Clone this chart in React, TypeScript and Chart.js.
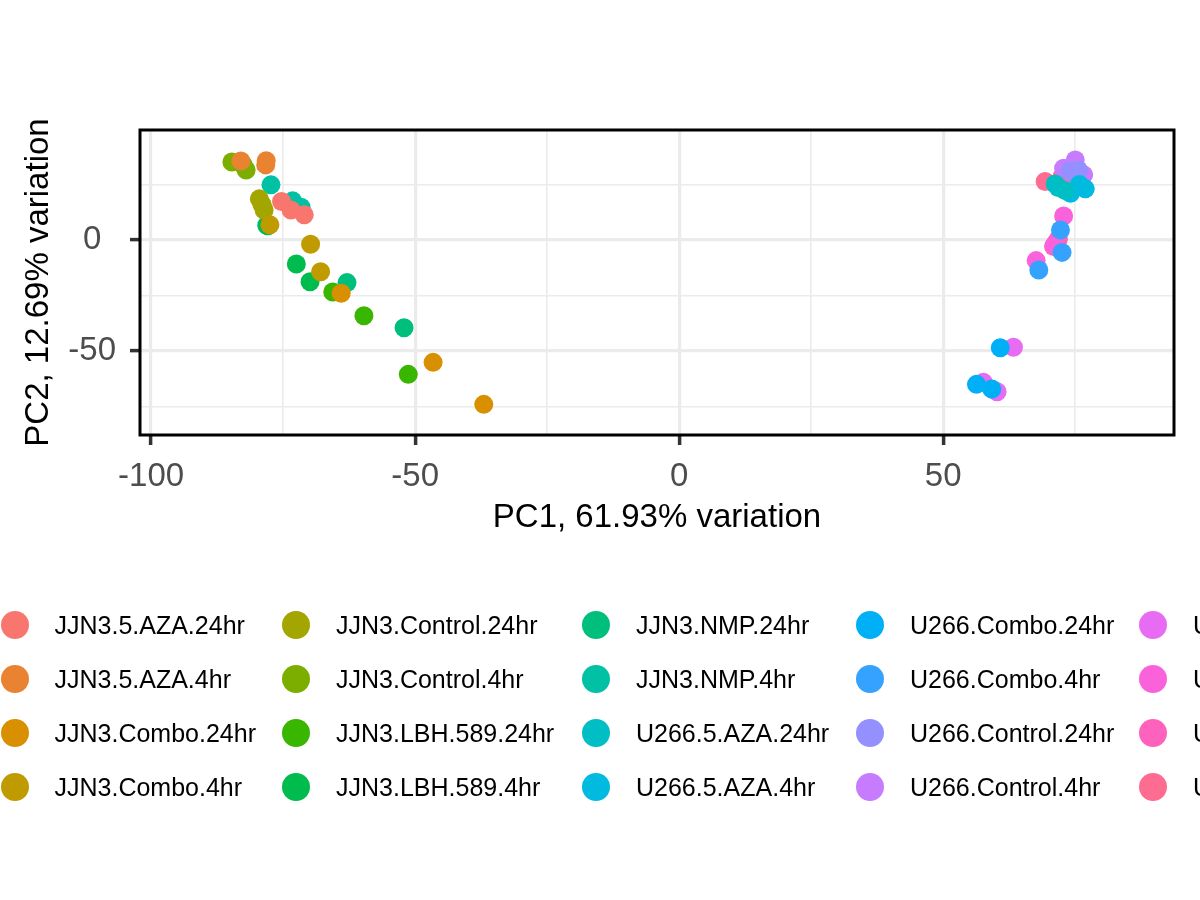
import { useEffect, useRef } from "react"
import { Chart, registerables } from "chart.js"
import type { Plugin } from "chart.js"

Chart.register(...registerables)

const groupLabels = [
  "JJN3.5.AZA.24hr", "JJN3.5.AZA.4hr", "JJN3.Combo.24hr", "JJN3.Combo.4hr",
  "JJN3.Control.24hr", "JJN3.Control.4hr", "JJN3.LBH.589.24hr", "JJN3.LBH.589.4hr",
  "JJN3.NMP.24hr", "JJN3.NMP.4hr", "U266.5.AZA.24hr", "U266.5.AZA.4hr",
  "U266.Combo.24hr", "U266.Combo.4hr", "U266.Control.24hr", "U266.Control.4hr",
  "U266.LBH.589.24hr", "U266.LBH.589.4hr", "U266.NMP.24hr", "U266.NMP.4hr",
]

// ggplot hue palette, 20 levels
const groupColors = [
  "#F8766D", "#EA8331", "#D89000", "#C09B00", "#A3A500", "#7CAE00", "#39B600",
  "#00BB4E", "#00BF7D", "#00C1A3", "#00BFC4", "#00BAE0", "#00B0F6", "#35A2FF",
  "#9590FF", "#C77CFF", "#E76BF3", "#FA62DB", "#FF62BC", "#FF6C91",
]

// group index of every sample
const sampleGroup = [
  0, 0, 0, 1, 1, 1, 2, 2, 2, 3, 3, 3, 4, 4, 4, 5, 5, 5, 6, 6, 6, 7, 7, 7, 8, 8, 8, 9, 9, 9,
  10, 10, 10, 11, 11, 11, 12, 12, 12, 13, 13, 13, 14, 14, 14, 15, 15, 15, 16, 16, 16,
  17, 17, 17, 18, 18, 18, 19, 19, 19,
]

const pc1 = [
  -75.3, -73.5, -71.0, -83.0, -78.2, -78.3, -64.0, -46.6, -37.0, -77.5, -69.8, -67.9,
  -79.5, -78.6, -79.0, -84.7, -82.0, -82.6, -65.6, -59.7, -51.3, -77.9, -72.5, -69.9,
  -62.9, -52.1, -78.1, -77.3, -73.2, -71.6,
  71.8, 71.2, 73.1, 76.9, 74.1, 75.8, 60.8, 56.3, 59.2, 72.2, 72.5, 68.1,
  74.7, 74.0, 75.6, 75.0, 72.8, 76.6, 63.3, 57.6, 60.2, 72.8, 67.6, 71.0,
  71.8, 71.3, 70.9, 69.3, 72.5, 73.5,
]

const pc2 = [
  17.3, 13.5, 11.3, 35.6, 35.7, 33.8, -24.0, -55.1, -74.0, 6.8, -1.9, -14.3,
  18.5, 13.5, 16.0, 35.1, 31.5, 34.0, -23.4, -34.1, -60.5, 6.4, -10.8, -18.8,
  -19.2, -39.5, 6.6, 24.8, 17.6, 14.7,
  23.6, 25.2, 22.2, 23.0, 21.0, 25.0, -48.5, -65.0, -67.1, 4.5, -5.6, -13.5,
  30.0, 31.0, 31.5, 36.0, 32.3, 29.3, -48.3, -64.1, -68.3, 10.8, -9.3, -2.5,
  0.3, -1.5, -3.0, 26.3, 28.5, 27.0,
]

const xBreaks = [-100, -75, -50, -25, 0, 25, 50, 75]
const xMajor = [-100, -50, 0, 50]
const yBreaks = [-75, -50, -25, 0, 25]
const yMajor = [-50, 0]

const xTitle = "PC1, 61.93% variation"
const yTitle = "PC2, 12.69% variation"

const FONT = "'Liberation Sans', Arial, Helvetica, sans-serif"

// legend layout: 4 rows per column
const legendRows = 4
const legendColX = [14.5, 296, 596, 870, 1153]
const legendRowY0 = 624.5
const legendRowGap = 54.2

const panelBorder: Plugin<"scatter"> = {
  id: "panelBorder",
  afterDatasetsDraw(chart) {
    const { ctx, chartArea } = chart
    ctx.save()
    ctx.strokeStyle = "#000000"
    ctx.lineWidth = 3
    ctx.strokeRect(chartArea.left, chartArea.top, chartArea.width, chartArea.height)
    ctx.restore()
  },
}

export default function App() {
  const canvasRef = useRef<HTMLCanvasElement>(null)
  const chartRef = useRef<Chart | null>(null)

  useEffect(() => {
    if (!canvasRef.current) return
    if (chartRef.current) chartRef.current.destroy()

    Chart.defaults.font.family = FONT

    const datasets = groupLabels.map((label, g) => ({
      label,
      data: pc1
        .map((x, i) => ({ x, y: pc2[i], g: sampleGroup[i] }))
        .filter((p) => p.g === g)
        .map((p) => ({ x: p.x, y: p.y })),
      backgroundColor: groupColors[g],
      borderWidth: 0,
      pointRadius: 9.5,
      pointHoverRadius: 9.5,
    }))

    chartRef.current = new Chart(canvasRef.current, {
      type: "scatter",
      data: { datasets },
      options: {
        animation: false,
        responsive: false,
        maintainAspectRatio: false,
        layout: { padding: { top: 130, right: 26, bottom: 362, left: 19 } },
        plugins: {
          legend: { display: false },
          tooltip: { enabled: false },
        },
        scales: {
          x: {
            type: "linear",
            min: -102.1,
            max: 93.7,
            afterBuildTicks: (scale) => {
              scale.ticks = xBreaks.map((value) => ({ value }))
            },
            afterFit: (scale) => {
              scale.height = 103
            },
            ticks: {
              autoSkip: false,
              maxRotation: 0,
              padding: 12,
              color: "#4D4D4D",
              font: { size: 33 },
              callback: (v) => (xMajor.includes(Number(v)) ? String(v) : ""),
            },
            grid: {
              color: "#EBEBEB",
              lineWidth: (ctx) => (xMajor.includes(ctx.tick?.value) ? 3.2 : 1.6),
              tickLength: 10,
              tickWidth: 3.5,
              tickColor: (ctx) => (xMajor.includes(ctx.tick?.value) ? "#333333" : "rgba(0,0,0,0)"),
            },
            border: { display: false },
            title: {
              display: true,
              text: xTitle,
              color: "#000000",
              font: { size: 33 },
              padding: 0,
            },
          },
          y: {
            type: "linear",
            min: -87.8,
            max: 49.5,
            afterBuildTicks: (scale) => {
              scale.ticks = yBreaks.map((value) => ({ value }))
            },
            afterFit: (scale) => {
              scale.width = 121
            },
            ticks: {
              autoSkip: false,
              crossAlign: "center",
              padding: 14,
              color: "#4D4D4D",
              font: { size: 33 },
              callback: (v) => (yMajor.includes(Number(v)) ? String(v) : ""),
            },
            grid: {
              color: "#EBEBEB",
              lineWidth: (ctx) => (yMajor.includes(ctx.tick?.value) ? 3.2 : 1.6),
              tickLength: 10,
              tickWidth: 3.5,
              tickColor: (ctx) => (yMajor.includes(ctx.tick?.value) ? "#333333" : "rgba(0,0,0,0)"),
            },
            border: { display: false },
            title: {
              display: true,
              text: yTitle,
              color: "#000000",
              font: { size: 33 },
              padding: 0,
            },
          },
        },
      },
      plugins: [panelBorder],
    })

    return () => {
      if (chartRef.current) {
        chartRef.current.destroy()
        chartRef.current = null
      }
    }
  }, [])

  return (
    <div
      style={{
        position: "absolute",
        left: 0,
        top: 0,
        width: 1200,
        height: 900,
        overflow: "hidden",
        background: "#ffffff",
        fontFamily: FONT,
      }}
    >
      <canvas ref={canvasRef} width={1200} height={900} style={{ width: 1200, height: 900, display: "block" }} />
      {groupLabels.map((label, i) => {
        const cx = legendColX[Math.floor(i / legendRows)]
        const cy = legendRowY0 + (i % legendRows) * legendRowGap
        return (
          <div key={label}>
            <div
              style={{
                position: "absolute",
                left: cx - 14,
                top: cy - 14,
                width: 28,
                height: 28,
                borderRadius: "50%",
                background: groupColors[i],
              }}
            />
            <div
              style={{
                position: "absolute",
                left: cx + 40,
                top: cy - 16,
                height: 32,
                lineHeight: "32px",
                fontSize: 25,
                color: "#000000",
                whiteSpace: "nowrap",
              }}
            >
              {label}
            </div>
          </div>
        )
      })}
    </div>
  )
}
